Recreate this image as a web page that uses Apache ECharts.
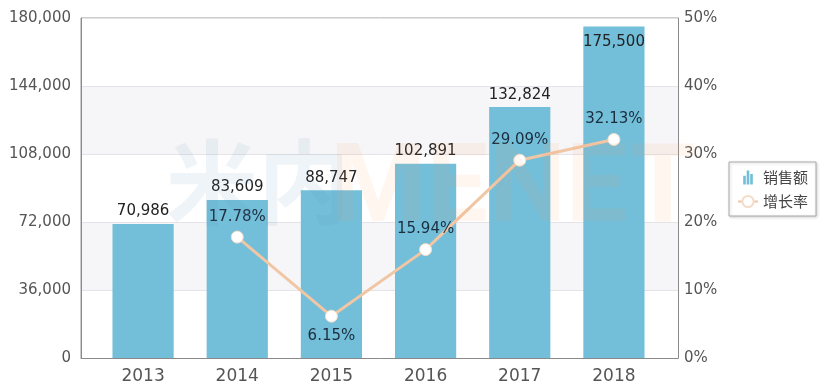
<!DOCTYPE html>
<html><head><meta charset="utf-8">
<script src="https://cdn.jsdelivr.net/npm/echarts@6/dist/echarts.min.js"></script>
<style>html,body{margin:0;padding:0;background:#fff}#c{width:824px;height:389px}</style>
</head><body><div id="c"></div>
<script>
const categories = ['2013','2014','2015','2016','2017','2018'];
const sales = [70986, 83609, 88747, 102891, 132824, 175500];
const growth = [null, 17.78, 6.15, 15.94, 29.09, 32.13];
const growthLabelPos = ['top','top','bottom','top','top','top'];
const leftTicks = [0, 36000, 72000, 108000, 144000, 180000];
const rightTicks = [0, 10, 20, 30, 40, 50];

const fmt = v => v.toLocaleString('en-US');
const font = 'DejaVu Sans, Verdana, sans-serif';
const chart = echarts.init(document.getElementById('c'));
chart.setOption({
  animation: false,
  backgroundColor: '#fff',
  grid: [
    {left: 81, right: 146, top: 18, bottom: 31, show: true, borderColor: '#9a9a9a', borderWidth: 1, backgroundColor: 'transparent'},
    {left: 96, right: 163, top: 18, bottom: 31}
  ],
  graphic: [{
    type: 'text', left: 166, top: 136, z: 100, silent: true,
    style: {text: '米内', font: 'bold 92px "Noto Sans CJK SC"', fill: 'rgba(100,150,185,0.10)'}
  },{
    type: 'text', left: 330, top: 138, z: 100, silent: true,
    style: {text: 'MENET', font: 'bold 110px Roboto, sans-serif', fill: 'rgba(250,160,90,0.09)'}
  }],
  legend: {
    orient: 'vertical', left: 729, top: 162,
    padding: [8, 8, 7, 8], itemGap: 9, itemWidth: 20, itemHeight: 14,
    borderColor: '#aaa', borderWidth: 1, backgroundColor: '#fff',
    shadowColor: 'rgba(0,0,0,0.2)', shadowBlur: 3, shadowOffsetX: 1, shadowOffsetY: 1,
    textStyle: {fontFamily: 'Noto Sans CJK SC', fontSize: 15, color: '#444'},
    data: [
      {name: '销售额', icon: 'path://M0,6H3V16H0ZM4,0H7V16H4ZM8,4H11V16H8Z'},
      {name: '增长率'}
    ]
  },
  xAxis: [{
    type: 'category', data: categories, gridIndex: 0,
    axisLine: {lineStyle: {color: '#8a8a8a'}},
    axisTick: {show: false},
    axisLabel: {show: false}
  },{
    type: 'category', data: categories, gridIndex: 1,
    axisLine: {show: false},
    axisTick: {show: false},
    axisLabel: {color: '#555', fontSize: 17, fontFamily: font, margin: 10}
  }],
  yAxis: [{
    type: 'value', min: 0, max: 180000, interval: 36000, gridIndex: 0,
    axisLine: {show: true, lineStyle: {color: '#8a8a8a'}},
    axisTick: {show: false},
    axisLabel: {color: '#555', fontSize: 15, fontFamily: font, margin: 10, formatter: v => leftTicks.includes(v) ? fmt(v) : ''},
    splitLine: {lineStyle: {color: '#e4e4e8'}},
    splitArea: {show: true, areaStyle: {color: ['#ffffff', '#f6f6f8']}}
  },{
    type: 'value', min: 0, max: 50, interval: 10, gridIndex: 0, position: 'right',
    axisLine: {show: true, lineStyle: {color: '#8a8a8a'}},
    axisTick: {show: false},
    axisLabel: {color: '#555', fontSize: 15, fontFamily: font, margin: 6, formatter: v => rightTicks.includes(v) ? v + '%' : ''},
    splitLine: {show: false}
  },{
    type: 'value', min: 0, max: 180000, interval: 36000, gridIndex: 1, show: false
  },{
    type: 'value', min: 0, max: 50, interval: 10, gridIndex: 1, show: false
  }],
  series: [{
    name: '销售额', type: 'bar', barWidth: '65%', z: 2, xAxisIndex: 1, yAxisIndex: 2,
    itemStyle: {color: '#73bfda'},
    data: sales.map((v, i) => i === sales.length - 1 ?
      {value: v, label: {position: 'insideTop', distance: 8}} : v),
    label: {show: true, position: 'top', distance: 5, color: '#222', fontSize: 15, fontFamily: font, formatter: p => fmt(p.value)}
  },{
    name: '增长率', type: 'line', xAxisIndex: 1, yAxisIndex: 3, z: 3,
    data: growth.map((v, i) => ({value: v, label: {position: growthLabelPos[i]}})),
    lineStyle: {color: '#f0c6a4', width: 3},
    itemStyle: {color: '#ffffff', borderColor: '#f3dcc8', borderWidth: 1},
    symbol: 'circle', symbolSize: 12, showAllSymbol: true,
    label: {show: true, color: '#1c2d3d', fontSize: 15, fontFamily: font, distance: 6, formatter: p => p.value.toFixed(2) + '%'}
  }]
});
</script></body></html>
